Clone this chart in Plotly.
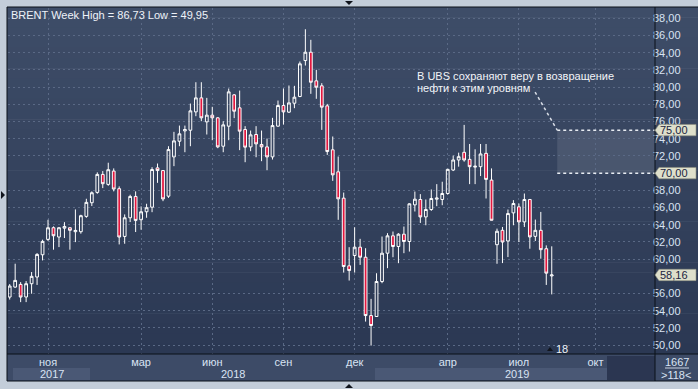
import plotly.graph_objects as go
import pandas as pd

# ---------------- data (weekly BRENT candles) ----------------
first_week = "2017-09-18"
opens = [55.59, 56.75, 57.06, 55.60, 57.14, 57.92, 60.51, 62.29, 63.65, 62.57,
         63.60, 63.65, 63.19, 63.19, 64.97, 66.56, 67.76, 69.85, 68.69, 70.24,
         68.19, 62.64, 64.81, 67.29, 64.58, 65.51, 66.04, 70.61, 70.30, 67.32,
         71.89, 73.71, 74.91, 74.99, 77.12, 78.75, 75.96, 76.74, 76.43, 73.13,
         75.46, 79.10, 77.59, 75.07, 73.05, 74.49, 73.33, 73.05, 71.89, 75.46,
         77.86, 77.09, 78.13, 78.91, 83.09, 84.06, 80.73, 80.15, 77.82, 72.71,
         70.15, 67.09, 59.22, 60.42, 61.39, 60.22, 53.44, 53.33, 57.40, 60.69,
         62.71, 61.47, 62.90, 62.05, 66.31, 66.93, 64.91, 65.77, 66.97, 66.93,
         67.63, 70.36, 71.53, 72.42, 71.60, 70.70, 70.75, 72.30, 69.19, 61.68,
         63.35, 62.11, 65.38, 66.08, 64.33, 66.93, 62.65, 63.35, 61.21, 58.05]
highs = [57.10, 59.47, 57.33, 57.45, 58.50, 60.70, 62.26, 64.58, 63.80, 63.73,
         64.30, 63.70, 65.78, 65.16, 67.02, 67.88, 70.09, 70.24, 71.21, 70.55,
         68.46, 65.20, 67.49, 67.88, 66.13, 66.44, 70.69, 71.12, 70.35, 73.13,
         74.80, 75.53, 75.53, 78.09, 80.57, 80.57, 78.75, 77.71, 76.50, 76.04,
         79.84, 79.20, 79.60, 75.46, 74.95, 75.46, 74.95, 74.02, 76.43, 78.44,
         79.84, 80.19, 80.15, 82.98, 86.73, 85.50, 82.01, 80.46, 78.05, 74.26,
         71.93, 67.74, 61.39, 63.71, 62.36, 61.27, 55.38, 58.36, 62.63, 63.02,
         63.21, 63.02, 63.79, 66.50, 67.86, 67.56, 66.93, 68.10, 68.72, 69.00,
         70.50, 72.04, 72.38, 75.61, 73.39, 72.77, 73.39, 73.39, 70.55, 63.55,
         63.74, 65.77, 66.86, 66.47, 67.63, 67.00, 64.60, 65.49, 61.60, 61.49]
lows = [55.30, 56.67, 55.00, 55.00, 55.98, 57.00, 59.85, 62.10, 61.10, 61.40,
        62.45, 61.10, 61.98, 62.96, 64.81, 66.17, 67.60, 68.26, 68.53, 67.88,
        61.71, 61.79, 64.31, 63.15, 63.42, 64.81, 65.46, 68.87, 66.74, 67.12,
        70.81, 73.13, 72.43, 73.13, 76.62, 76.04, 74.49, 73.83, 72.90, 72.43,
        73.83, 76.39, 72.67, 71.27, 72.55, 71.85, 71.39, 70.34, 71.58, 75.40,
        75.65, 77.00, 77.55, 78.83, 82.51, 79.22, 78.64, 75.03, 72.12, 69.10,
        64.57, 58.44, 57.51, 58.44, 59.33, 52.74, 49.95, 53.30, 57.20, 58.95,
        60.22, 59.53, 60.69, 60.88, 65.54, 64.21, 63.94, 65.61, 66.16, 66.27,
        67.50, 70.24, 70.75, 71.33, 68.72, 68.72, 69.66, 67.05, 64.50, 59.46,
        59.54, 60.24, 63.94, 61.99, 63.74, 61.21, 62.11, 60.05, 57.00, 55.90]
closes = [56.87, 57.53, 55.59, 57.14, 58.00, 60.55, 62.06, 63.65, 62.72, 63.65,
          63.80, 63.35, 63.34, 65.05, 66.60, 67.72, 69.85, 68.77, 70.40, 68.15,
          62.57, 64.81, 67.29, 64.50, 65.51, 65.98, 70.42, 70.30, 67.00, 72.74,
          73.75, 74.57, 75.07, 77.24, 78.75, 76.43, 76.74, 76.43, 73.05, 75.61,
          79.45, 77.20, 74.88, 73.02, 74.45, 73.40, 73.05, 71.89, 75.53, 77.86,
          77.12, 78.17, 78.83, 82.71, 84.06, 80.57, 79.99, 77.67, 72.51, 69.80,
          67.01, 59.14, 58.67, 61.39, 60.22, 53.44, 52.28, 57.40, 60.69, 62.71,
          61.47, 62.90, 62.05, 66.43, 66.97, 64.91, 65.77, 67.05, 67.10, 67.63,
          70.44, 71.53, 71.91, 71.53, 70.75, 70.80, 72.23, 69.27, 64.52, 63.24,
          61.99, 65.30, 66.47, 64.33, 66.93, 62.58, 63.35, 61.10, 58.37, 58.16]

month_ticks = ["2017-11-06", "2018-03-05", "2018-06-04", "2018-09-03",
               "2018-12-03", "2019-04-01", "2019-07-01", "2019-10-07"]
month_labels = ["ноя", "мар", "июн", "сен", "дек", "апр", "июл", "окт"]
year_labels = ["2017", "2018", "2019"]
price_ticks = [50, 52, 54, 56, 60, 62, 64, 66, 68, 72, 74, 76, 78, 80, 82, 84, 86, 88]
target_low, target_high = 70, 75
zone_start = "2019-08-19"
note_from = ("2019-07-21 17:00", 79.43)
note_lines = ["В UBS сохраняют веру в возвращение", "нефти к этим уровням"]
counter_top, counter_bottom = "1667", ">118<"
bars_label = "18"

dates = pd.date_range(first_week, periods=len(opens), freq="7D")


def fmt(v):
    return f"{v:.2f}".replace(".", ",")


title_text = f"BRENT Week High = {fmt(max(highs))} Low = {fmt(min(lows))}"

# ---------------- geometry helpers (pixels -> paper) ----------------
W, H = 698, 389
PL, PR, PT, PB = 8, 655, 8, 354


def px(x):
    return (x - PL) / (PR - PL)


def py(y):
    return (PB - y) / (PB - PT)


NARROW = "Liberation Sans Narrow, Liberation Sans, Arial, sans-serif"
REG = "Liberation Sans, Arial, sans-serif"
LABEL_C = "#d9e3f3"

fig = go.Figure()
fig.add_trace(go.Candlestick(
    x=dates, open=opens, high=highs, low=lows, close=closes,
    increasing=dict(line=dict(color="#ffffff", width=1), fillcolor="rgba(0,0,0,0)"),
    decreasing=dict(line=dict(color="#ffffff", width=1), fillcolor="#e3173f"),
    whiskerwidth=0, showlegend=False, hoverinfo="skip",
))

shapes = []
# gradient background
N = 34
c0 = (62, 77, 104)
c1 = (43, 56, 83)
for i in range(N):
    t = i / (N - 1)
    col = tuple(round(c0[k] + (c1[k] - c0[k]) * t) for k in range(3))
    y0 = 7 + (PB - 7) * i / N
    y1 = 7 + (PB - 7) * (i + 1) / N
    shapes.append(dict(type="rect", xref="paper", yref="paper",
                       x0=px(7), x1=px(W + 1), y0=py(y1 + 0.5), y1=py(y0),
                       fillcolor="rgb(%d,%d,%d)" % col, line=dict(width=0), layer="below"))
# bottom axis strip
shapes.append(dict(type="rect", xref="paper", yref="paper", x0=px(7), x1=px(W + 1),
                   y0=py(381), y1=py(PB), fillcolor="#3d4b67", line=dict(width=0), layer="below"))
# year bands
shapes.append(dict(type="rect", xref="paper", yref="paper", x0=px(13), x1=px(90),
                   y0=py(380), y1=py(368), fillcolor="#4a5875", line=dict(width=0), layer="below"))
shapes.append(dict(type="rect", xref="paper", yref="paper", x0=px(375), x1=px(607),
                   y0=py(380), y1=py(368), fillcolor="#4a5875", line=dict(width=0), layer="below"))
shapes.append(dict(type="rect", xref="paper", yref="paper", x0=px(607), x1=px(PR),
                   y0=py(380), y1=py(356), fillcolor="#2b3651", line=dict(width=0), layer="below"))
# target zone
shapes.append(dict(type="rect", xref="x", yref="y", x0=zone_start, x1="2019-12-22",
                   y0=target_low, y1=target_high, fillcolor="rgba(255,255,255,0.10)",
                   line=dict(width=0), layer="below"))
for lv in (target_low, target_high):
    shapes.append(dict(type="line", xref="x", yref="y", x0=zone_start, x1="2019-12-22",
                       y0=lv, y1=lv, line=dict(color="#e8ecf2", width=1.5, dash="dot")))
shapes.append(dict(type="line", xref="x", yref="y", x0=note_from[0], y0=note_from[1],
                   x1=zone_start, y1=target_high, line=dict(color="#d8dde6", width=1.5, dash="dot")))
# frame lines
DARK = "#0b1018"
for (x0, y0, x1, y1) in [(7, 7, W + 1, 7), (7, 7, 7, 381), (7, 381, W + 1, 381),
                          (7, PB, W + 1, PB), (PR, 7, PR, 381)]:
    shapes.append(dict(type="line", xref="paper", yref="paper", x0=px(x0), y0=py(y0),
                       x1=px(x1), y1=py(y1), line=dict(color=DARK, width=1), layer="above"))
shapes.append(dict(type="line", xref="paper", yref="paper", x0=px(665), x1=px(689),
                   y0=py(368), y1=py(368), line=dict(color="#c9d3e3", width=1), layer="above"))


# frame arrows
def tri(pts):
    return "M " + " L ".join(f"{px(a)},{py(b)}" for a, b in pts) + " Z"


for pts in ([(345, 1), (353, 1), (349, 5)], [(1, 191), (1, 199), (5, 195)],
            [(345, 388), (353, 388), (349, 384)], [(547, 351), (553, 351), (550, 347)]):
    shapes.append(dict(type="path", xref="paper", yref="paper", path=tri(pts),
                       fillcolor="#10141c", line=dict(width=0), layer="above"))
# price tags
tags = [target_high, target_low, closes[-1]]
for v in tags:
    path = (f"M {px(655)},{v} L {px(659)},{v + 0.66} L {px(696)},{v + 0.66} "
            f"L {px(696)},{v - 0.66} L {px(659)},{v - 0.66} Z")
    shapes.append(dict(type="path", xref="paper", yref="y", path=path,
                       fillcolor="#dedfcb", line=dict(color="#8f907f", width=0.6), layer="above"))

ann = []
ann.append(dict(text=title_text, xref="paper", yref="paper", x=px(9), y=py(15),
                xanchor="left", yanchor="middle", showarrow=False,
                font=dict(family=NARROW, size=11, color="#eef2f8")))
for i, line in enumerate(note_lines):
    ann.append(dict(text=line, xref="paper", yref="paper", x=px(415), y=py(76 + 12.5 * i),
                    xanchor="left", yanchor="middle", showarrow=False,
                    font=dict(family=REG, size=11, color="#f2f4f8")))
for v in tags:
    ann.append(dict(text=fmt(v), xref="paper", yref="y", x=px(658), y=v,
                    xanchor="left", yanchor="middle", showarrow=False,
                    font=dict(family=NARROW, size=11, color="#1b2440")))
for lab, xx in zip(year_labels, (52, 233, 517)):
    ann.append(dict(text=lab, xref="paper", yref="paper", x=px(xx), y=py(374),
                    xanchor="center", yanchor="middle", showarrow=False,
                    font=dict(family=NARROW, size=11, color=LABEL_C)))
ann.append(dict(text=bars_label, xref="paper", yref="paper", x=px(562), y=py(349),
                xanchor="center", yanchor="middle", showarrow=False,
                font=dict(family=NARROW, size=11, color="#eef2f8")))
ann.append(dict(text=counter_top, xref="paper", yref="paper", x=px(677), y=py(361.5),
                xanchor="center", yanchor="middle", showarrow=False,
                font=dict(family=NARROW, size=11, color=LABEL_C)))
ann.append(dict(text=counter_bottom, xref="paper", yref="paper", x=px(676), y=py(374.5),
                xanchor="center", yanchor="middle", showarrow=False,
                font=dict(family=NARROW, size=11, color=LABEL_C)))

fig.update_layout(
    width=W, height=H,
    margin=dict(l=PL, r=W - PR, t=PT, b=H - PB, pad=0),
    paper_bgcolor="#c3cdd9", plot_bgcolor="rgba(0,0,0,0)",
    separators=", ",
    boxgap=0.28,
    shapes=shapes, annotations=ann,
    showlegend=False,
    xaxis=dict(type="date", range=["2017-09-15 20:00", "2019-12-22"],
               rangeslider=dict(visible=False),
               tickvals=month_ticks, ticktext=month_labels, ticks="",
               showgrid=True, gridcolor="#5a6985", griddash="2px,3px", gridwidth=1,
               showline=False, zeroline=False,
               tickfont=dict(family=NARROW, size=11, color=LABEL_C)),
    yaxis=dict(side="right", range=[48.97, 89.2], tickvals=price_ticks, tickformat=".2f",
               ticks="", showgrid=True, gridcolor="#5a6985", griddash="2px,3px",
               gridwidth=1, showline=False, zeroline=False, ticklabelstandoff=-3,
               tickfont=dict(family=NARROW, size=11, color=LABEL_C)),
)

fig.write_html("out.html", config={"displayModeBar": False},
               post_script="document.body.style.margin='0';")
